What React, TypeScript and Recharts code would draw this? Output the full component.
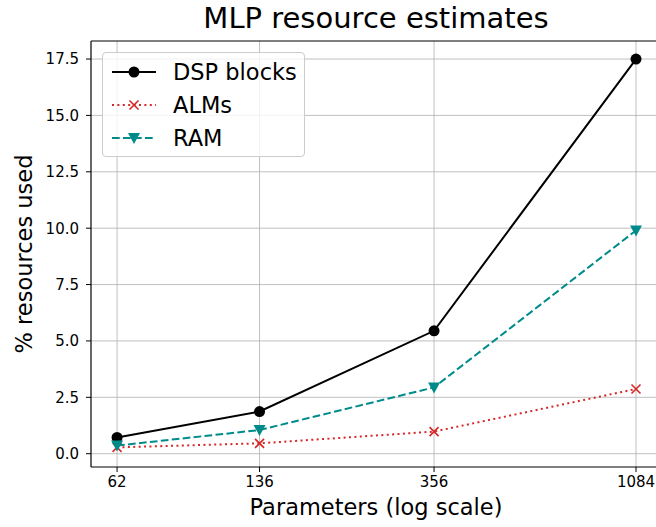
import {
  LineChart,
  Line,
  XAxis,
  YAxis,
  CartesianGrid,
  ReferenceLine,
} from "recharts";

// parameter counts (log x axis)
const params = [62, 136, 356, 1084];
const dspBlocks = [0.72, 1.87, 5.45, 17.5];
const alms = [0.28, 0.46, 0.98, 2.87];
const ram = [0.36, 1.05, 2.94, 9.9];

const yTicks = [0, 2.5, 5, 7.5, 10, 12.5, 15, 17.5];
const minorTicks = [60, 70, 80, 90, 200, 300, 400, 500, 600, 700, 800, 900];

const X_DOMAIN = [53.7, 1251];
const Y_DOMAIN = [-0.59, 18.3];

const data = params.map((p, i) => ({
  x: p,
  dsp: dspBlocks[i],
  alms: alms[i],
  ram: ram[i],
}));

const FONT = "DejaVu Sans, sans-serif";
const RED = "#d62728";
const TEAL = "#008b8b";
const GRID = "#b0b0b0";

const CircleDot = (p: any) => (
  <circle key={`c${p.index}`} cx={p.cx} cy={p.cy} r={5.5} fill="#000" />
);

const CrossDot = (p: any) => (
  <g key={`x${p.index}`} stroke={RED} strokeWidth={1.6}>
    <line x1={p.cx - 4.5} y1={p.cy - 4.5} x2={p.cx + 4.5} y2={p.cy + 4.5} />
    <line x1={p.cx - 4.5} y1={p.cy + 4.5} x2={p.cx + 4.5} y2={p.cy - 4.5} />
  </g>
);

const TriDot = (p: any) => (
  <path
    key={`t${p.index}`}
    d={`M${p.cx - 6},${p.cy - 5} L${p.cx + 6},${p.cy - 5} L${p.cx},${p.cy + 6} Z`}
    fill={TEAL}
  />
);

function LegendRow({
  label,
  color,
  dash,
  marker,
}: {
  label: string;
  color: string;
  dash?: string;
  marker: "o" | "x" | "v";
}) {
  return (
    <div style={{ display: "flex", alignItems: "center", height: 33 }}>
      <svg width={48} height={20} style={{ marginRight: 15 }}>
        <line
          x1={2}
          y1={10}
          x2={46}
          y2={10}
          stroke={color}
          strokeWidth={2}
          strokeDasharray={dash}
        />
        {marker === "o" && <circle cx={24} cy={10} r={5.5} fill={color} />}
        {marker === "x" && (
          <g stroke={color} strokeWidth={1.6}>
            <line x1={19.5} y1={5.5} x2={28.5} y2={14.5} />
            <line x1={19.5} y1={14.5} x2={28.5} y2={5.5} />
          </g>
        )}
        {marker === "v" && <path d="M18,5 L30,5 L24,16 Z" fill={color} />}
      </svg>
      <span>{label}</span>
    </div>
  );
}

export default function App() {
  return (
    <div
      style={{
        position: "fixed",
        left: 0,
        top: 0,
        width: 656,
        height: 527,
        overflow: "hidden",
        background: "#fff",
        fontFamily: FONT,
      }}
    >
      <LineChart
        width={656}
        height={527}
        data={data}
        margin={{ top: 41, right: -6, left: 0, bottom: 0 }}
      >
        <CartesianGrid
          stroke={GRID}
          strokeWidth={0.8}
          vertical={false}
          horizontalValues={yTicks}
        />
        {params.map((p) => (
          <ReferenceLine key={p} x={p} stroke={GRID} strokeWidth={0.8} />
        ))}
        {/* top spine */}
        <ReferenceLine
          y={Y_DOMAIN[1]}
          stroke="#000"
          strokeWidth={1.2}
          ifOverflow="visible"
        />
        <XAxis
          xAxisId="minor"
          dataKey="x"
          type="number"
          scale="log"
          domain={X_DOMAIN}
          allowDataOverflow
          ticks={minorTicks}
          interval={0}
          tickFormatter={() => ""}
          tickSize={3}
          tickLine={{ stroke: "#000", strokeWidth: 0.8 }}
          axisLine={false}
          height={0}
        />
        <XAxis
          dataKey="x"
          type="number"
          scale="log"
          domain={X_DOMAIN}
          allowDataOverflow
          ticks={params}
          interval={0}
          tickSize={5}
          tickMargin={4}
          tickLine={{ stroke: "#000", strokeWidth: 1 }}
          axisLine={{ stroke: "#000", strokeWidth: 1.2 }}
          tick={{ fill: "#000", fontSize: 15, fontFamily: FONT }}
          height={60}
        />
        <YAxis
          type="number"
          domain={Y_DOMAIN}
          allowDataOverflow
          ticks={yTicks}
          interval={0}
          tickFormatter={(v: number) => v.toFixed(1)}
          tickSize={5}
          tickMargin={7}
          tickLine={{ stroke: "#000", strokeWidth: 1 }}
          axisLine={{ stroke: "#000", strokeWidth: 1.2 }}
          tick={{ fill: "#000", fontSize: 15, fontFamily: FONT }}
          width={91}
        />
        <Line
          dataKey="dsp"
          stroke="#000"
          strokeWidth={2}
          dot={CircleDot}
          isAnimationActive={false}
        />
        <Line
          dataKey="alms"
          stroke={RED}
          strokeWidth={2}
          strokeDasharray="2 3.4"
          dot={CrossDot}
          isAnimationActive={false}
        />
        <Line
          dataKey="ram"
          stroke={TEAL}
          strokeWidth={2}
          strokeDasharray="7.7 3.3"
          dot={TriDot}
          isAnimationActive={false}
        />
      </LineChart>

      <div
        style={{
          position: "absolute",
          left: 0,
          width: 752,
          top: 1,
          textAlign: "center",
          fontSize: 29,
          color: "#000",
        }}
      >
        MLP resource estimates
      </div>
      <div
        style={{
          position: "absolute",
          left: 0,
          width: 752,
          top: 494,
          textAlign: "center",
          fontSize: 22.5,
          color: "#000",
        }}
      >
        Parameters (log scale)
      </div>
      <div
        style={{
          position: "absolute",
          left: 24,
          top: 254,
          transform: "translate(-50%, -50%) rotate(-90deg)",
          whiteSpace: "nowrap",
          fontSize: 22.5,
          color: "#000",
        }}
      >
        % resources used
      </div>

      <div
        style={{
          position: "absolute",
          left: 102,
          top: 52,
          width: 203,
          height: 105,
          border: "1px solid #cccccc",
          borderRadius: 4,
          background: "rgba(255,255,255,0.8)",
          boxSizing: "border-box",
          padding: "2px 0 0 7px",
          fontSize: 22.5,
          color: "#000",
        }}
      >
        <LegendRow label="DSP blocks" color="#000" marker="o" />
        <LegendRow label="ALMs" color={RED} dash="2 3.4" marker="x" />
        <LegendRow label="RAM" color={TEAL} dash="7.7 3.3" marker="v" />
      </div>
    </div>
  );
}
